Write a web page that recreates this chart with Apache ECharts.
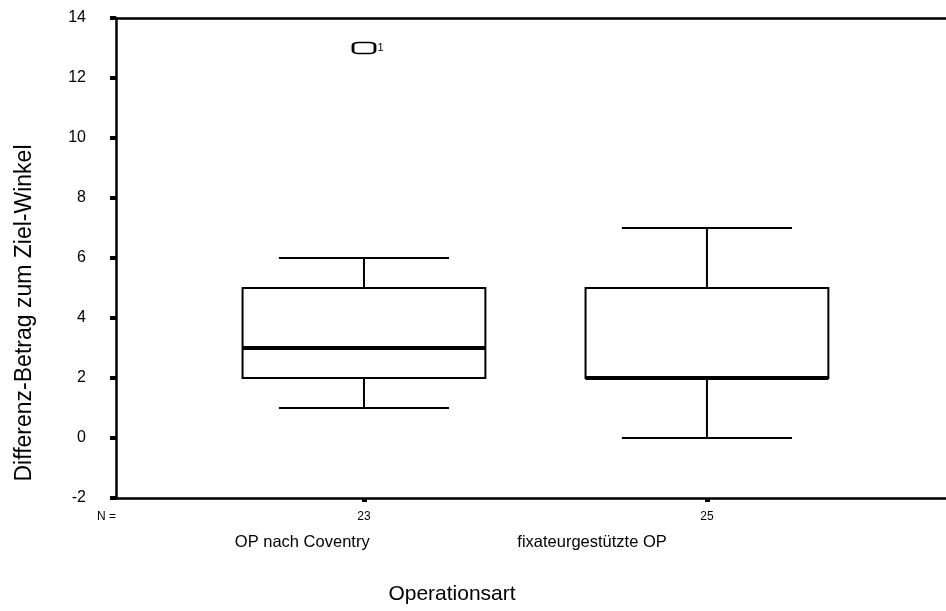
<html>
<head>
  <meta charset="utf-8">
  <style>
    html, body { margin: 0; padding: 0; background: #fff; }
    #container { width: 946px; height: 611px; }
  </style>
</head>
<body>
<div id="container"></div>
<script type="text/javascript" src="https://cdn.jsdelivr.net/npm/echarts@6/dist/echarts.min.js"></script>
<script type="text/javascript">
  var dom = document.getElementById('container');
  var myChart = echarts.init(dom, null, { renderer: 'canvas' });

  // Gruppen und Boxplot-Kennwerte (min, Q1, Median, Q3, max)
  const categories = ['OP nach Coventry', 'fixateurgestützte OP'];
  const counts = ['23', '25'];
  const positions = [1, 2];
  const boxMin = [1, 0];
  const boxQ1 = [2, 2];
  const boxMedian = [3, 2];
  const boxQ3 = [5, 5];
  const boxMax = [6, 7];
  // Ausreisser: [Gruppe, Wert, Fallnummer]
  const outlierPos = [1];
  const outlierVal = [13];
  const outlierCase = ['1'];
  // Lage der Gruppennamen (wie im Original leicht nach links versetzt)
  const namePositions = [0.82, 1.665];

  const font = 'Liberation Sans, Arial, sans-serif';

  let boxData = positions.map((p, i) => [p, boxMin[i], boxQ1[i], boxMedian[i], boxQ3[i], boxMax[i]]);
  let outData = outlierPos.map((p, i) => [p, outlierVal[i], outlierCase[i]]);

  const halfBox = 0.354;
  const halfCap = 0.248;

  function renderBox(params, api) {
    var x = api.value(0);
    var lo = api.coord([x - halfBox, api.value(2)]);
    var hi = api.coord([x + halfBox, api.value(4)]);
    var med1 = api.coord([x - halfBox, api.value(3)]);
    var med2 = api.coord([x + halfBox, api.value(3)]);
    var c = api.coord([x, api.value(1)]);
    var top = api.coord([x, api.value(5)]);
    var capL = api.coord([x - halfCap, 0])[0];
    var capR = api.coord([x + halfCap, 0])[0];
    var st = { stroke: '#000', lineWidth: 2, fill: null };
    return {
      type: 'group',
      children: [
        { type: 'line', shape: { x1: c[0], y1: c[1], x2: c[0], y2: lo[1] }, style: st },
        { type: 'line', shape: { x1: top[0], y1: top[1], x2: top[0], y2: hi[1] }, style: st },
        { type: 'line', shape: { x1: capL, y1: c[1], x2: capR, y2: c[1] }, style: st },
        { type: 'line', shape: { x1: capL, y1: top[1], x2: capR, y2: top[1] }, style: st },
        { type: 'rect', shape: { x: lo[0], y: hi[1], width: hi[0] - lo[0], height: lo[1] - hi[1] }, style: { stroke: '#000', lineWidth: 2, fill: '#fff' } },
        { type: 'line', shape: { x1: med1[0], y1: med1[1], x2: med2[0], y2: med2[1] }, style: { stroke: '#000', lineWidth: 4 } }
      ]
    };
  }

  var option = {
    animation: false,
    backgroundColor: '#fff',
    textStyle: { fontFamily: font },
    grid: { left: 116, right: 0, top: 18, bottom: 113 },
    xAxis: [
      {
        type: 'value',
        min: 0.277,
        max: 2.697,
        position: 'bottom',
        name: 'Operationsart',
        nameLocation: 'middle',
        nameGap: 86,
        nameTextStyle: { fontSize: 21, color: '#000', fontFamily: font, padding: [0, 158, 0, 0] },
        axisLine: { show: true, onZero: false, lineStyle: { color: '#000', width: 2.5 } },
        axisTick: { show: true, customValues: positions, length: 4, lineStyle: { color: '#000', width: 5 } },
        axisLabel: {
          customValues: positions,
          formatter: function (v) { return counts[positions.indexOf(Math.round(v))]; },
          fontSize: 12, color: '#000', margin: 13, fontFamily: font
        },
        splitLine: { show: false }
      },
      {
        type: 'value',
        min: 0.277,
        max: 2.697,
        position: 'bottom',
        axisLine: { show: false },
        axisTick: { show: false },
        axisLabel: {
          customValues: namePositions,
          formatter: function (v) {
            var d = namePositions.map(p => Math.abs(p - v));
            return categories[d.indexOf(Math.min.apply(null, d))];
          },
          fontSize: 16.5, color: '#000', margin: 36, fontFamily: font
        },
        splitLine: { show: false }
      },
      {
        type: 'value',
        min: 0.277,
        max: 2.697,
        position: 'top',
        axisLine: { show: true, onZero: false, lineStyle: { color: '#000', width: 2.5 } },
        axisTick: { show: false },
        axisLabel: { show: false },
        splitLine: { show: false }
      }
    ],
    yAxis: {
      type: 'value',
      min: -2,
      max: 14,
      interval: 2,
      name: 'Differenz-Betrag zum Ziel-Winkel',
      nameLocation: 'middle',
      nameGap: 80,
      nameTextStyle: { fontSize: 23, color: '#000', fontFamily: font, padding: [0, 110, 0, 0] },
      axisLine: { show: true, onZero: false, lineStyle: { color: '#000', width: 2.5 } },
      axisTick: { show: true, length: 6, lineStyle: { color: '#000', width: 4 } },
      axisLabel: { fontSize: 16, color: '#000', margin: 30, fontFamily: font },
      splitLine: { show: false }
    },
    graphic: [
      { type: 'text', left: 97, top: 511, style: { text: 'N =', fontSize: 12, fill: '#000', fontFamily: font } }
    ],
    series: [
      {
        type: 'custom',
        xAxisIndex: 0,
        renderItem: renderBox,
        encode: { x: 0, y: [1, 2, 3, 4, 5] },
        data: boxData,
        z: 3
      },
      {
        type: 'scatter',
        xAxisIndex: 0,
        symbol: 'roundRect',
        symbolSize: [22, 11],
        itemStyle: { color: '#fff', borderColor: '#000', borderWidth: 2, opacity: 1 },
        label: {
          show: true, position: 'right', distance: 1,
          formatter: function (p) { return p.data[2]; },
          fontSize: 11, color: '#000', fontFamily: font
        },
        data: outData,
        z: 4
      }
    ]
  };

  myChart.setOption(option);
  window.addEventListener('resize', myChart.resize);
</script>
</body>
</html>
